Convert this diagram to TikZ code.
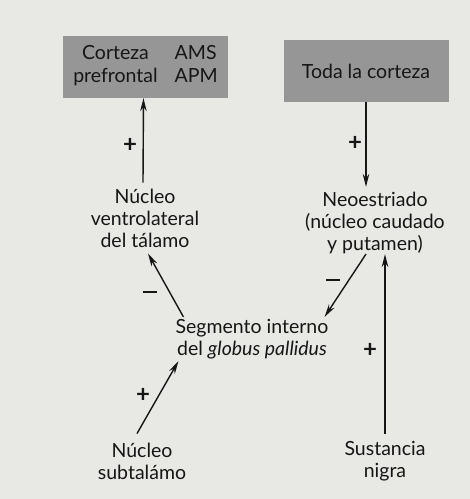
\documentclass[tikz,border=0pt]{standalone}
\usepackage{fontspec}
\setmainfont{Lato}
\usetikzlibrary{arrows.meta}
\definecolor{paper}{RGB}{232,232,229}
\definecolor{boxgray}{RGB}{150,150,150}
\definecolor{ink}{RGB}{22,22,22}

\begin{document}
\begin{tikzpicture}[
x=1pt, y=-1pt,
font=\fontsize{19.5}{22}\selectfont,
area/.style = {
	fill=boxgray,
	minimum width=165pt,
	minimum height=62pt,
	inner sep=0pt,
	text=ink
	},
nuc/.style = {
	align=center,
	inner sep=0pt,
	text=ink
	},
sign/.style = {
	inner sep=0pt,
	font=\fontsize{24}{24}\selectfont\bfseries,
	text=ink
	},
conn/.style = {
	-{Stealth[length=13pt,width=6.5pt]},
	line width=1.4pt,
	ink
	}
]
\useasboundingbox [fill=paper] (0,0) rectangle (470,499);

% CORTEX BOXES
\node [area] (pfc) at (145.5,67) {\begin{tabular}{@{}c@{\hspace{17pt}}l@{}}Corteza & AMS\\[1pt] prefrontal & APM\end{tabular}};
\node [area] (toda) at (366,71) {Toda la corteza};

% NUCLEI
\node [nuc] (tal) at (145,218) {Núcleo\\ventrolateral\\del tálamo};
\node [nuc] (neo) at (375,223) {Neoestriado\\(núcleo caudado\\y putamen)};
\node [nuc] (seg) at (252,339) {Segmento interno\\del \textit{globus pallidus}};
\node [nuc] (sub) at (142,461) {Núcleo\\subtalámo};
\node [nuc] (nig) at (385,461) {Sustancia\\nigra};

% SIGNS
\node [sign] (pA) at (130,145) {+};
\node [sign] (pB) at (355,143) {+};
\node [sign] (mA) at (150,292) {\rule{14pt}{1.6pt}};
\node [sign] (mB) at (333,280) {\rule{14pt}{1.6pt}};
\node [sign] (pC) at (143,395) {+};
\node [sign] (pD) at (370,350) {+};

% PATHS
\draw [conn] ([xshift=-2pt,yshift=6pt]tal.north) -- ([xshift=-2pt]pfc.south);
\draw [conn] (toda.south) -- ([yshift=5pt]toda.south |- neo.north);
\draw [conn] ([xshift=-9pt]neo.south) -- ([xshift=-4pt,yshift=2pt]seg.north east);
\draw [conn] ([yshift=7pt]nig.north) -- (nig.north |- neo.south);
\draw [conn] ([xshift=8pt,yshift=2pt]seg.north west) -- ([xshift=3pt,yshift=-6pt]tal.south);
\draw [conn] ([xshift=-5pt,yshift=9pt]sub.north) -- ([xshift=3pt,yshift=-2pt]seg.south west);
\end{tikzpicture}
\end{document}
